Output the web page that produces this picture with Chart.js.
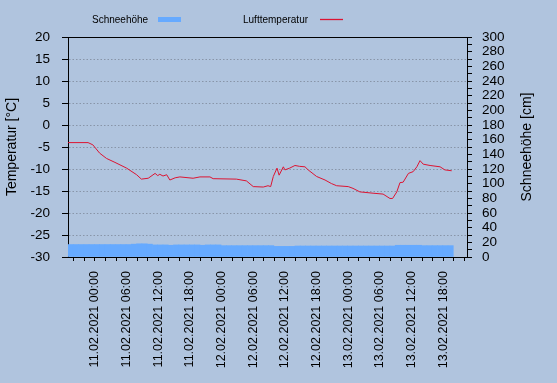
<!DOCTYPE html>
<html>
<head>
<meta charset="utf-8">
<script src="https://cdn.jsdelivr.net/npm/chart.js@4"></script>
<style>
  html, body { margin: 0; padding: 0; background: #b0c4de; }
  #wrap { width: 557px; height: 383px; }
</style>
</head>
<body>
<div id="wrap"><canvas id="chart" width="557" height="383"></canvas></div>
<script>
/* ---------- Data (hours relative to 11.02.2021 00:00) ---------- */
const tempHours = [-5.1, -1.3, -0.4, 0.9, 2.2, 3.8, 6.0, 7.9, 8.8, 10.1,
  11.4, 11.9, 12.3, 12.9, 13.6, 14.2, 15.2, 16.1, 18.6, 19.9,
  21.8, 22.4, 26.8, 28.7, 30.0, 31.9, 32.8, 33.3, 33.8, 34.5,
  34.9, 35.7, 36.0, 36.9, 37.9, 38.8, 39.8, 40.4, 42.0, 43.6,
  44.8, 45.8, 48.0, 48.9, 50.2, 52.7, 54.6, 55.9, 56.4, 57.2,
  57.8, 58.4, 59.4, 60.3, 61.0, 61.6, 62.2, 63.5, 65.4, 66.3, 67.6];
const tempValues = [-4.0, -4.0, -4.5, -6.4, -7.6, -8.5, -9.8, -11.3, -12.3, -12.1,
  -11.0, -11.5, -11.2, -11.6, -11.3, -12.5, -12.0, -11.8, -12.1, -11.8,
  -11.8, -12.2, -12.3, -12.7, -14.0, -14.1, -13.8, -14.0, -11.7, -9.8,
  -11.4, -9.5, -10.2, -9.8, -9.2, -9.4, -9.5, -10.2, -11.7, -12.5,
  -13.3, -13.8, -14.0, -14.4, -15.2, -15.5, -15.7, -16.7, -16.7, -15.2,
  -13.1, -13.0, -11.0, -10.6, -9.5, -8.1, -8.9, -9.2, -9.5, -10.2, -10.4];

const snowStart = -4.6;          // first hourly value
const snowValues = [17, 17, 17, 17, 17, 17, 17, 17, 17, 17, 17, 17, 17.5, 18, 18, 17.5, 16.5,
  16.5, 16.5, 16, 16.5, 16.5, 16.5, 16.5, 16.5, 16, 16.5, 16.5, 16.5,
  15.5, 15.5, 15.5, 15.5, 15.5, 15.5, 15.5, 15.5, 15.5, 15.5,
  14.5, 14.5, 14.5, 14.5,
  15, 15, 15, 15, 15, 15, 15, 15, 15, 15, 15, 15, 15, 15, 15, 15, 15, 15, 15,
  16, 16, 16, 16, 16,
  15.5, 15.5, 15.5, 15.5, 15.5, 15.5];

const tickHours = [0, 6, 12, 18, 24, 30, 36, 42, 48, 54, 60, 66];
const tickLabels = ['11.02.2021 00:00', '11.02.2021 06:00', '11.02.2021 12:00', '11.02.2021 18:00',
  '12.02.2021 00:00', '12.02.2021 06:00', '12.02.2021 12:00', '12.02.2021 18:00',
  '13.02.2021 00:00', '13.02.2021 06:00', '13.02.2021 12:00', '13.02.2021 18:00'];

/* ---------- Styles ---------- */
const FONT = '"Liberation Sans", Arial, sans-serif';
const snowColor = '#66aaff';
const tempColor = '#dc1432';

/* ---------- Extras: frame top, axis titles, legend ---------- */
const extras = {
  id: 'extras',
  afterDraw(chart) {
    const { ctx, chartArea: a } = chart;
    ctx.save();
    ctx.strokeStyle = '#000';
    ctx.lineWidth = 1;
    ctx.beginPath();
    ctx.moveTo(a.left, Math.round(a.top) + 0.5);
    ctx.lineTo(a.right, Math.round(a.top) + 0.5);
    ctx.stroke();

    // axis titles (both read bottom-to-top)
    ctx.fillStyle = '#000';
    ctx.font = '14px ' + FONT;
    ctx.textAlign = 'center';
    ctx.textBaseline = 'middle';
    const cy = (a.top + a.bottom) / 2;
    [[12, 'Temperatur [°C]'], [527, 'Schneehöhe [cm]']].forEach(([x, t]) => {
      ctx.save();
      ctx.translate(x, cy);
      ctx.rotate(-Math.PI / 2);
      ctx.fillText(t, 0, 0);
      ctx.restore();
    });

    // legend (text first, then symbol)
    ctx.font = '10px ' + FONT;
    ctx.textAlign = 'left';
    ctx.fillText('Schneehöhe', 92, 20);
    ctx.fillStyle = snowColor;
    ctx.fillRect(158, 17, 23, 5);
    ctx.fillStyle = '#000';
    ctx.fillText('Lufttemperatur', 243, 20);
    ctx.strokeStyle = tempColor;
    ctx.lineWidth = 1.3;
    ctx.beginPath();
    ctx.moveTo(320, 19.5);
    ctx.lineTo(343, 19.5);
    ctx.stroke();
    ctx.restore();
  }
};

/* ---------- Chart ---------- */
new Chart(document.getElementById('chart'), {
  type: 'line',
  data: {
    datasets: [
      {
        label: 'Lufttemperatur',
        data: tempHours.map((h, i) => ({ x: h, y: tempValues[i] })),
        borderColor: tempColor,
        borderWidth: 1,
        pointRadius: 0,
        tension: 0,
        yAxisID: 'y',
        order: 0
      },
      {
        type: 'bar',
        label: 'Schneehöhe',
        data: snowValues.map((v, i) => ({ x: snowStart + i, y: v })),
        backgroundColor: snowColor,
        borderWidth: 0,
        barPercentage: 1,
        categoryPercentage: 1,
        yAxisID: 'y2',
        order: 1
      }
    ]
  },
  options: {
    responsive: false,
    animation: false,
    layout: { padding: { top: 37, left: 0, right: 0, bottom: 0 } },
    plugins: { legend: { display: false }, tooltip: { enabled: false } },
    scales: {
      x: {
        type: 'linear',
        min: -5.1,
        max: 70.5,
        offset: false,
        grid: { drawOnChartArea: false, drawTicks: true, tickLength: 4, tickColor: '#000', offset: false },
        border: { color: '#000' },
        ticks: {
          stepSize: 2,
          includeBounds: false,
          autoSkip: false,
          minRotation: 90,
          maxRotation: 90,
          padding: 10,
          color: '#000',
          font: { family: FONT, size: 12.5 },
          callback: (v) => {
            const i = tickHours.indexOf(v);
            return i < 0 ? '' : tickLabels[i];
          }
        },
        afterFit: (s) => { s.height = 126; }
      },
      y: {
        position: 'left',
        min: -30,
        max: 20,
        grid: { color: 'rgba(120,130,145,0.7)', tickLength: 6, tickColor: '#000' },
        border: { color: '#000', dash: [1.5, 2] },
        ticks: { stepSize: 5, padding: 12, color: '#000', font: { family: FONT, size: 13.5 } },
        afterFit: (s) => { s.width = 68; }
      },
      y2: {
        position: 'right',
        min: 0,
        max: 300,
        grid: { drawOnChartArea: false, tickLength: 5, tickColor: '#000' },
        border: { color: '#000' },
        ticks: {
          stepSize: 10,
          autoSkip: false,
          padding: 10,
          color: '#000',
          font: { family: FONT, size: 13.5 },
          callback: (v) => (v % 20 === 0 ? v : '')
        },
        afterFit: (s) => { s.width = 90; }
      }
    }
  },
  plugins: [extras]
});
</script>
</body>
</html>
